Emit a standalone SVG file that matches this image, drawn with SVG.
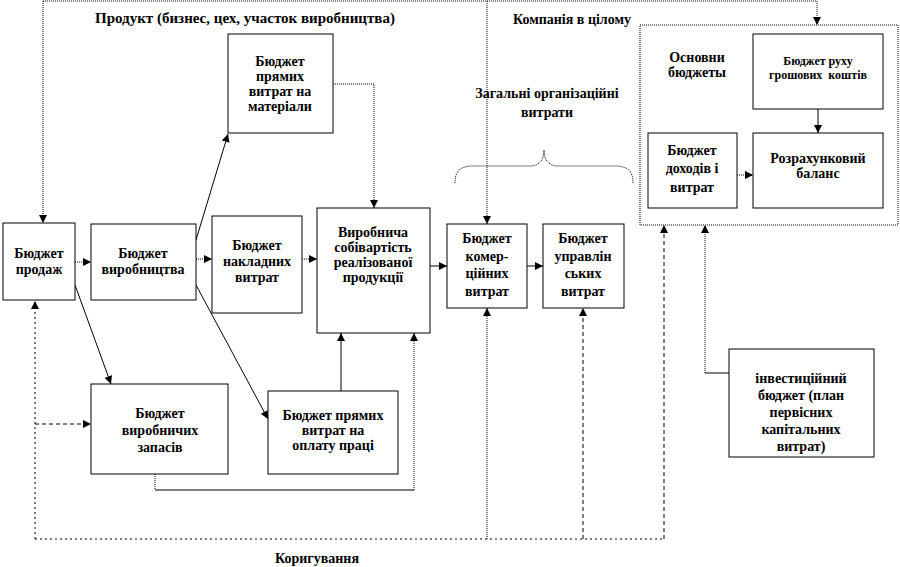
<svg xmlns="http://www.w3.org/2000/svg" width="900" height="567" viewBox="0 0 900 567">
<defs>
<marker id="ah" viewBox="0 0 10 10" refX="10" refY="5" markerWidth="8" markerHeight="8" markerUnits="userSpaceOnUse" orient="auto">
<path d="M0,0 L10,5 L0,10 z" fill="#000"/>
</marker>
</defs>
<style>
text{font-family:"Liberation Serif","Times New Roman",serif;font-weight:bold;font-size:14px;fill:#000;text-anchor:middle}
.sm{font-size:12px}
.tt{font-size:15px}
.box{fill:#fff;stroke:#000;stroke-width:1}
.dbox{fill:none;stroke:#000;stroke-width:1;stroke-dasharray:1,1}
.c{fill:none;stroke:#000;stroke-width:1}
.dot{stroke-dasharray:1,1}
.dash{stroke-dasharray:4,3}
.sp{stroke-dasharray:2,3}
.a{marker-end:url(#ah)}
</style>
<rect width="900" height="567" fill="#fff"/>

<text class="tt" x="245" y="23">Продукт (бизнес, цех, участок виробництва)</text>
<text x="572" y="24">Компанія в цілому</text>
<text x="547" y="98">Загальні організаційні</text>
<text x="547" y="117">витрати</text>
<text x="317" y="563">Коригування</text>

<g id="connectors">
<path class="c dot" d="M43,1 H817"/>
<path class="c dot a" d="M817,1 V25"/>
<path class="c dot a" d="M43,1 V223"/>
<path class="c dot a" d="M487,1 V224"/>
<path class="c dot a" d="M75,262 H91"/>
<path class="c dot a" d="M196,259 H212"/>
<path class="c dot a" d="M302,259 H317"/>
<path class="c a" d="M430,266 H447"/>
<path class="c a" d="M527,266 H543"/>
<path class="c a" d="M196,240 L228,134"/>
<path class="c dot a" d="M333,84 H374 V208"/>
<path class="c a" d="M75,285 L111,384"/>
<path class="c a" d="M196,285 L268,419"/>
<path class="c a" d="M341,391 V333"/>
<path class="c dot" d="M155,474 V490"/>
<path class="c" d="M155,490 H414"/>
<path class="c dot a" d="M414,490 V333"/>
<path class="c sp" d="M35,539 H664"/>
<path class="c sp a" d="M35,539 V301"/>
<path class="c dash a" d="M35,424 H91"/>
<path class="c dot a" d="M487,539 V308"/>
<path class="c dash a" d="M583,539 V308"/>
<path class="c dash a" d="M664,539 V225"/>
<path class="c" d="M729,373 H705"/>
<path class="c dot a" d="M705,373 V225"/>
<path class="c a" d="M818,109 V133"/>
<path class="c dot a" d="M737,175 H753"/>
<path class="c dot" d="M455,183 C455,171 460,166 474,166 L530,166 C539,166 544,160 544,150 C544,160 549,166 558,166 L614,166 C628,166 633,171 633,183"/>
</g>

<g id="company">
<rect class="dbox" x="640" y="25" width="258" height="200"/>
<text x="697" y="62">Основни</text>
<text x="697" y="77">бюджеты</text>
</g>

<g id="n-materials">
<rect class="box" x="228" y="34" width="105" height="99"/>
<text x="280" y="66">Бюджет</text>
<text x="280" y="81">прямих</text>
<text x="280" y="96">витрат на</text>
<text x="280" y="111">матеріали</text>
</g>

<g id="n-sales">
<rect class="box" x="3" y="223" width="72" height="77"/>
<text x="39" y="258">Бюджет</text>
<text x="39" y="274">продаж</text>
</g>

<g id="n-production">
<rect class="box" x="91" y="224" width="105" height="76"/>
<text x="143" y="258">Бюджет</text>
<text x="143" y="274">виробництва</text>
</g>

<g id="n-overhead">
<rect class="box" x="212" y="216" width="90" height="97"/>
<text x="257" y="250">Бюджет</text>
<text x="257" y="266">накладних</text>
<text x="257" y="282">витрат</text>
</g>

<g id="n-cost">
<rect class="box" x="317" y="208" width="113" height="125"/>
<text x="373" y="237">Виробнича</text>
<text x="373" y="252">собівартість</text>
<text x="373" y="267">реалізованої</text>
<text x="373" y="282">продукції</text>
</g>

<g id="n-commercial">
<rect class="box" x="447" y="224" width="80" height="84"/>
<text x="487" y="243">Бюджет</text>
<text x="487" y="261">комер-</text>
<text x="487" y="278">ційних</text>
<text x="487" y="296">витрат</text>
</g>

<g id="n-admin">
<rect class="box" x="543" y="224" width="81" height="84"/>
<text x="583" y="243">Бюджет</text>
<text x="583" y="261">управлін</text>
<text x="583" y="278">ських</text>
<text x="583" y="296">витрат</text>
</g>

<g id="n-cashflow">
<rect class="box" x="753" y="34" width="130" height="75"/>
<text class="sm" x="818" y="65">Бюджет руху</text>
<text class="sm" x="818" y="79" xml:space="preserve">грошових  коштів</text>
</g>

<g id="n-income">
<rect class="box" x="648" y="133" width="89" height="75"/>
<text x="692" y="155">Бюджет</text>
<text x="692" y="173">доходів і</text>
<text x="692" y="192">витрат</text>
</g>

<g id="n-balance">
<rect class="box" x="753" y="133" width="130" height="75"/>
<text x="818" y="163">Розрахунковий</text>
<text x="818" y="178">баланс</text>
</g>

<g id="n-inventory">
<rect class="box" x="91" y="384" width="137" height="90"/>
<text x="160" y="418">Бюджет</text>
<text x="160" y="435">виробничих</text>
<text x="160" y="452">запасів</text>
</g>

<g id="n-labor">
<rect class="box" x="268" y="391" width="130" height="83"/>
<text x="333" y="420">Бюджет прямих</text>
<text x="333" y="435">витрат на</text>
<text x="333" y="450">оплату праці</text>
</g>

<g id="n-invest">
<rect class="box" x="729" y="349" width="145" height="108"/>
<text x="801" y="383">інвестиційний</text>
<text x="801" y="400">бюджет (план</text>
<text x="801" y="417">первісних</text>
<text x="801" y="434">капітальних</text>
<text x="801" y="451">витрат)</text>
</g>
</svg>
